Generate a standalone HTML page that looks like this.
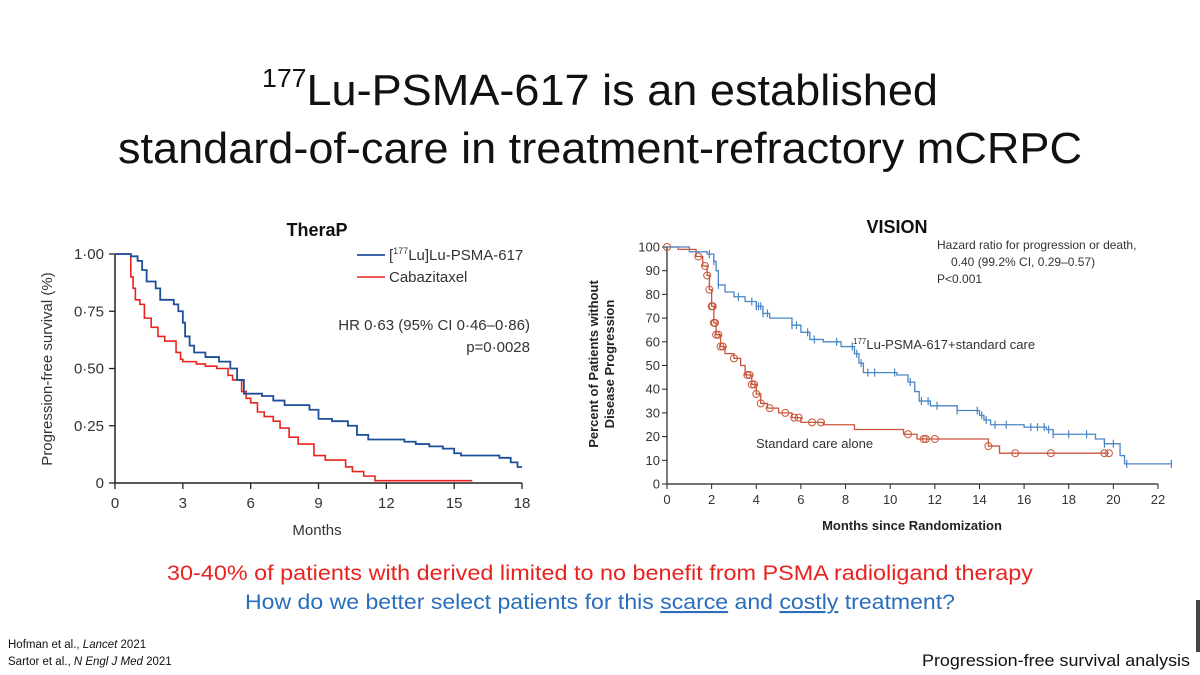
<!DOCTYPE html>
<html><head><meta charset="utf-8"><style>
body{margin:0;background:#fff;}
svg{display:block;font-family:"Liberation Sans",sans-serif;}
</style></head><body>
<svg id="slide" width="1200" height="675" viewBox="0 0 1200 675">
<rect x="0" y="0" width="1200" height="675" fill="#fff"/>
<text x="600" y="105" text-anchor="middle" font-size="44" fill="#111" textLength="676" lengthAdjust="spacingAndGlyphs"><tspan font-size="26" dy="-18">177</tspan><tspan dy="18">Lu-PSMA-617 is an established</tspan></text>
<text x="600" y="163" text-anchor="middle" font-size="44" fill="#111" textLength="964" lengthAdjust="spacingAndGlyphs">standard-of-care in treatment-refractory mCRPC</text>

<g id="therap"></g>
<g id="vision"></g>

<text x="600" y="580" text-anchor="middle" font-size="21" fill="#e8231f" textLength="866" lengthAdjust="spacingAndGlyphs">30-40% of patients with derived limited to no benefit from PSMA radioligand therapy</text>
<text x="600" y="609" text-anchor="middle" font-size="21" fill="#2a6ebb" textLength="710" lengthAdjust="spacingAndGlyphs">How do we better select patients for this <tspan text-decoration="underline">scarce</tspan> and <tspan text-decoration="underline">costly</tspan> treatment?</text>
<text x="8" y="648" font-size="11.5" fill="#111">Hofman et al., <tspan font-style="italic">Lancet</tspan> 2021</text>
<text x="8" y="665" font-size="11.5" fill="#111">Sartor et al., <tspan font-style="italic">N Engl J Med</tspan> 2021</text>
<text x="1190" y="666" text-anchor="end" font-size="17" fill="#111" textLength="268" lengthAdjust="spacingAndGlyphs">Progression-free survival analysis</text>
<rect x="1196" y="600" width="4" height="52" fill="#444"/>
</svg>
<script>
// TheraP data
const tpBlueT=[0,0.7,1.0,1.2,1.4,1.8,2.0,2.6,2.8,3.0,3.1,3.3,3.5,4.0,4.6,5.1,5.4,5.7,6.5,7.0,7.5,8.6,9.0,9.6,10.3,10.7,11.2,12.8,13.3,13.9,14.5,15.0,15.3,17.0,17.5,17.8,18.0];
const tpBlueV=[1,0.99,0.97,0.93,0.88,0.85,0.80,0.78,0.75,0.70,0.64,0.60,0.57,0.55,0.53,0.50,0.45,0.39,0.38,0.36,0.34,0.32,0.28,0.27,0.25,0.21,0.19,0.18,0.17,0.16,0.15,0.13,0.12,0.11,0.09,0.07,0.07];
const tpRedT=[0,0.7,0.8,0.9,1.1,1.3,1.6,1.9,2.2,2.7,2.9,3.0,3.6,4.0,4.5,5.0,5.2,5.6,5.8,6.0,6.3,6.6,7.0,7.3,7.7,8.1,8.8,9.3,10.2,10.5,11.0,11.5,12.8,15.8];
const tpRedV=[1,0.90,0.85,0.80,0.78,0.72,0.68,0.64,0.62,0.57,0.54,0.53,0.52,0.51,0.50,0.47,0.45,0.40,0.37,0.35,0.31,0.29,0.27,0.24,0.20,0.17,0.12,0.10,0.07,0.05,0.03,0.01,0.01,0.01];
const tpXTicks=[0,3,6,9,12,15,18];
const tpYTicks=[0,0.25,0.5,0.75,1];
const tpYLabels=["0","0·25","0·50","0·75","1·00"];
// VISION data
const vBlueT=[0,1.0,1.8,2.1,2.2,2.3,2.6,3.0,3.5,4.0,4.3,4.6,5.6,6.0,6.4,7.0,7.8,8.4,8.6,8.8,10.3,10.8,11.1,11.3,11.8,13.0,14.0,14.2,14.5,16.0,17.0,17.3,19.2,19.6,20.3,20.5,22.6];
const vBlueV=[100,98,97,94,90,84,81,79,77,75,72,70,67,64,61,60,58,55,51,47,46,43,39,35,33,31,29,27,25,24,23,21,19,17,12,8.5,8.5];
const vRedT=[0,0.5,1.3,1.6,1.8,1.9,2.0,2.1,2.2,2.4,2.6,3.0,3.3,3.5,3.8,4.0,4.2,4.5,5.0,5.6,6.0,7.0,8.4,10.6,11.2,14.4,14.9,19.8];
const vRedV=[100,99,96,92,88,82,75,68,63,58,55,53,50,46,42,38,34,32,30,28,26,25,23,21,19,16,13,13];
const vBlueCensT=[1.9,2.1,2.3,3.2,3.8,4.0,4.1,4.2,4.3,4.5,5.6,5.8,6.3,6.6,7.6,8.3,8.5,8.7,9.0,9.3,10.2,10.9,11.4,11.7,12.1,13.0,13.9,14.1,14.3,14.7,15.2,16.3,16.6,16.9,17.1,17.3,18.0,18.8,19.6,20.0,20.6,22.6];
const vRedCensT=[0,1.4,1.7,1.8,1.9,2.0,2.05,2.1,2.15,2.2,2.3,2.4,2.5,3.0,3.6,3.7,3.8,3.9,4.0,4.2,4.6,5.3,5.7,5.9,6.5,6.9,10.8,11.5,11.6,12.0,14.4,15.6,17.2,19.6,19.8];
const vXTicks=[0,2,4,6,8,10,12,14,16,18,20,22];
const vYTicks=[0,10,20,30,40,50,60,70,80,90,100];

const NS="http://www.w3.org/2000/svg";
function mk(parent,tag,attrs,text){const e=document.createElementNS(NS,tag);for(const k in attrs)e.setAttribute(k,attrs[k]);if(text!==undefined)e.textContent=text;parent.appendChild(e);return e;}
function stepPath(T,V,sx,sy){let d="M"+sx(T[0])+","+sy(V[0]);for(let i=1;i<T.length;i++){d+=" H"+sx(T[i])+" V"+sy(V[i]);}return d;}
function valAt(T,V,t){let v=V[0];for(let i=0;i<T.length;i++){if(T[i]<=t)v=V[i];}return v;}

// TheraP
(function(){
const g=document.getElementById('therap');
const sx=t=>115+t/18*407, sy=v=>483-v*229;
let e=mk(g,'text',{x:317,y:236,'text-anchor':'middle','font-size':18,'font-weight':'bold',fill:'#111'},'TheraP');

e=mk(g,'line',{x1:115,y1:254,x2:115,y2:483,stroke:'#222','stroke-width':1.5});

e=mk(g,'line',{x1:115,y1:483,x2:522,y2:483,stroke:'#222','stroke-width':1.5});

tpXTicks.forEach(t=>{mk(g,'line',{x1:sx(t),y1:483,x2:sx(t),y2:489,stroke:'#222','stroke-width':1.3});
 e=mk(g,'text',{x:sx(t),y:508,'text-anchor':'middle','font-size':15,fill:'#333'},String(t));
 });
tpYTicks.forEach((v,i)=>{mk(g,'line',{x1:109,y1:sy(v),x2:115,y2:sy(v),stroke:'#222','stroke-width':1.3});
 e=mk(g,'text',{x:104,y:sy(v)+5,'text-anchor':'end','font-size':15,fill:'#333'},tpYLabels[i]);
 });
e=mk(g,'text',{x:317,y:535,'text-anchor':'middle','font-size':15,fill:'#333'},'Months');

e=mk(g,'text',{x:0,y:0,transform:'translate(52,369) rotate(-90)','text-anchor':'middle','font-size':15,fill:'#333'},'Progression-free survival (%)');

e=mk(g,'path',{d:stepPath(tpRedT,tpRedV,sx,sy),fill:'none',stroke:'#e8231f','stroke-width':1.6});

e=mk(g,'path',{d:stepPath(tpBlueT,tpBlueV,sx,sy),fill:'none',stroke:'#1d4e9a','stroke-width':1.8});

mk(g,'line',{x1:357,y1:255,x2:385,y2:255,stroke:'#1d4e9a','stroke-width':1.8});
e=mk(g,'text',{x:389,y:260,'font-size':15,fill:'#333'});e.innerHTML='[<tspan font-size="9" dy="-6">177</tspan><tspan dy="6">Lu]Lu-PSMA-617</tspan>';

mk(g,'line',{x1:357,y1:277,x2:385,y2:277,stroke:'#e8231f','stroke-width':1.6});
e=mk(g,'text',{x:389,y:282,'font-size':15,fill:'#333'},'Cabazitaxel');

e=mk(g,'text',{x:530,y:330,'text-anchor':'end','font-size':15,fill:'#333'},'HR 0·63 (95% CI 0·46–0·86)');

e=mk(g,'text',{x:530,y:352,'text-anchor':'end','font-size':15,fill:'#333'},'p=0·0028');

})();

// VISION
(function(){
const g=document.getElementById('vision');
const sx=t=>667+t/22*491, sy=v=>484-v/100*237;
let e=mk(g,'text',{x:897,y:233,'text-anchor':'middle','font-size':18,'font-weight':'bold',fill:'#111'},'VISION');

e=mk(g,'line',{x1:667,y1:sy(100),x2:667,y2:484,stroke:'#222','stroke-width':1.2});

e=mk(g,'line',{x1:667,y1:484,x2:1158,y2:484,stroke:'#222','stroke-width':1.2});

vXTicks.forEach(t=>{mk(g,'line',{x1:sx(t),y1:484,x2:sx(t),y2:489,stroke:'#222'});
 e=mk(g,'text',{x:sx(t),y:504,'text-anchor':'middle','font-size':13,fill:'#333'},String(t));
 });
vYTicks.forEach(v=>{mk(g,'line',{x1:662,y1:sy(v),x2:667,y2:sy(v),stroke:'#222'});
 e=mk(g,'text',{x:660,y:sy(v)+4.5,'text-anchor':'end','font-size':13,fill:'#333'},String(v));
 });
e=mk(g,'text',{x:912,y:530,'text-anchor':'middle','font-size':13,'font-weight':'bold',fill:'#222'},'Months since Randomization');

e=mk(g,'text',{x:0,y:0,transform:'translate(598,364) rotate(-90)','text-anchor':'middle','font-size':13,'font-weight':'bold',fill:'#222'},'Percent of Patients without');

e=mk(g,'text',{x:0,y:0,transform:'translate(614,364) rotate(-90)','text-anchor':'middle','font-size':13,'font-weight':'bold',fill:'#222'},'Disease Progression');

e=mk(g,'path',{d:stepPath(vRedT,vRedV,sx,sy),fill:'none',stroke:'#c9553a','stroke-width':1.3});

vRedCensT.forEach(t=>{e=mk(g,'circle',{cx:sx(t),cy:sy(valAt(vRedT,vRedV,t)),r:3.5,fill:'none',stroke:'#c9553a','stroke-width':1});
 });
e=mk(g,'path',{d:stepPath(vBlueT,vBlueV,sx,sy),fill:'none',stroke:'#4a86c5','stroke-width':1.3});

vBlueCensT.forEach(t=>{const x=sx(t),y=sy(valAt(vBlueT,vBlueV,t));
 e=mk(g,'path',{d:`M${x},${y-4}V${y+4}`,stroke:'#4a86c5','stroke-width':1.2});
 });
e=mk(g,'text',{x:853,y:349,'font-size':13,fill:'#333'});e.innerHTML='<tspan font-size="8" dy="-5">177</tspan><tspan dy="5">Lu-PSMA-617+standard care</tspan>';

e=mk(g,'text',{x:756,y:448,'font-size':13,fill:'#333'},'Standard care alone');

e=mk(g,'text',{x:937,y:249,'font-size':12,fill:'#333'},'Hazard ratio for progression or death,');

e=mk(g,'text',{x:951,y:266,'font-size':12,fill:'#333'},'0.40 (99.2% CI, 0.29–0.57)');

e=mk(g,'text',{x:937,y:283,'font-size':12,fill:'#333'},'P<0.001');

})();
</script>
</body></html>
